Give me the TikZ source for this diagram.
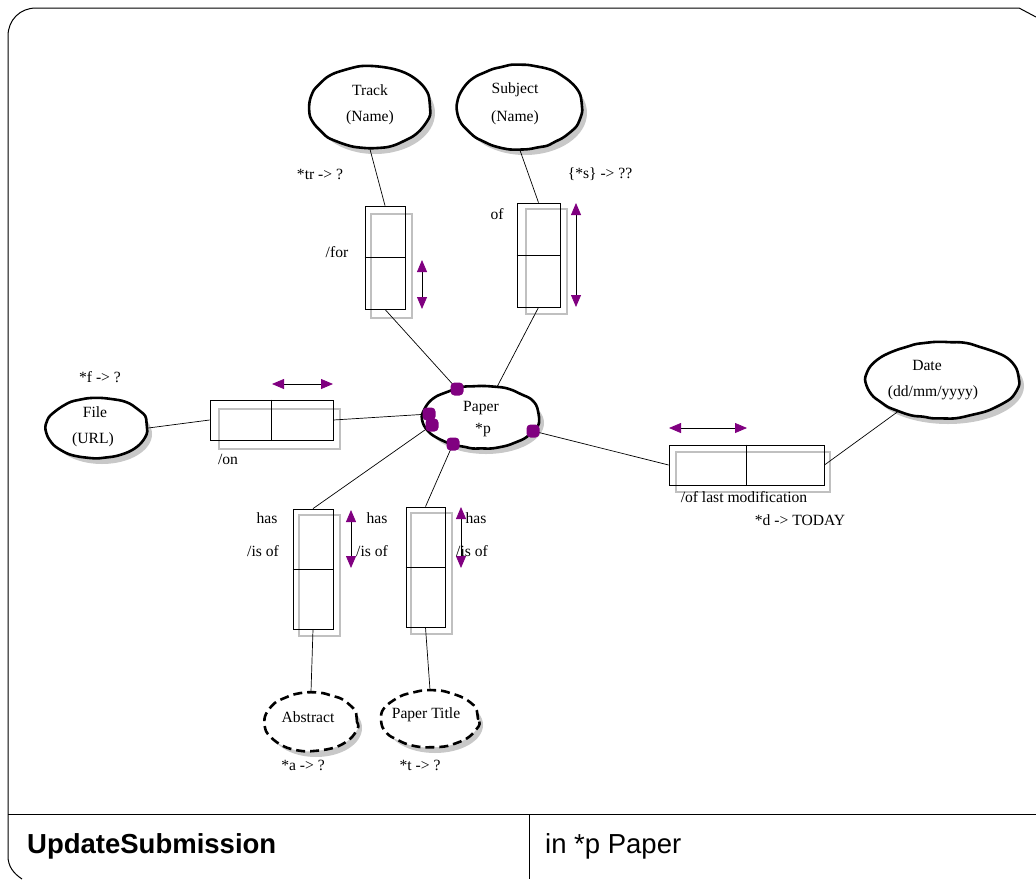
\documentclass[tikz,border=0pt]{standalone}
\usepackage{fontspec}
\setmainfont{Liberation Serif}
\newfontfamily\headfont{Liberation Sans}
\usetikzlibrary{shapes.geometric,arrows.meta,decorations.pathmorphing}
\definecolor{dotpurple}{RGB}{128,0,128}
\definecolor{shadowgray}{RGB}{200,200,200}
\definecolor{boxgray}{RGB}{192,192,192}
\pgfmathsetseed{11}
\begin{document}
\begin{tikzpicture}[x=1pt,y=-1pt,
  lbl/.style={font=\fontsize{15.6}{18}\selectfont, inner sep=0pt},
  headlbl/.style={font=\headfont\fontsize{27.5}{31}\selectfont, inner sep=0pt, anchor=base west},
  entity/.style={ellipse, draw, line width=2.6pt, fill=white, inner sep=0pt,
    line cap=round, line join=round,
    decorate, decoration={random steps, segment length=9pt, amplitude=0.7pt,
      pre length=3pt, post length=3pt}, rounded corners=3pt},
  valent/.style={entity, line cap=butt, dash pattern=on 9pt off 5pt},
  eshadow/.style={ellipse, fill=shadowgray, inner sep=0pt},
  relbox/.style={rectangle, draw, line width=0.8pt, inner sep=0pt},
  relshadow/.style={rectangle, draw=boxgray, line width=2.4pt, inner sep=0pt},
  link/.style={line width=0.7pt},
  roledir/.style={line width=0.8pt,
    {Triangle[length=12pt,width=10pt,color=dotpurple]}-{Triangle[length=12pt,width=10pt,color=dotpurple]}},
  port/.style={rectangle, rounded corners=4pt, fill=dotpurple, minimum size=13pt, inner sep=0pt},
]
\useasboundingbox (0,0) rectangle (1036,879);

% outer frame and footer
\draw[line width=1pt] (1036,17) -- (1019,8) -- (36,8)
  .. controls (20,8) and (8,20) .. (8,36) -- (8,856)
  .. controls (8,866) and (13,873) .. (22,879);
\draw[line width=1pt] (8,814) -- (1036,814);
\draw[line width=1pt] (529,814) -- (529,879);
\node[headlbl, font=\headfont\bfseries\fontsize{27.5}{31}\selectfont] (title) at (27,853) {UpdateSubmission};
\node[headlbl] (param) at (545,853) {in *p Paper};

% entity shadows
\node[eshadow, minimum width=120pt, minimum height=82pt] (track-sh) at (375,113) {};
\node[eshadow, minimum width=124pt, minimum height=84pt] (subject-sh) at (525,113) {};
\node[eshadow, minimum width=100pt, minimum height=60pt] (file-sh) at (102,434) {};
\node[eshadow, minimum width=116pt, minimum height=62pt] (paper-sh) at (486,423) {};
\node[eshadow, minimum width=152pt, minimum height=76pt] (date-sh) at (948,386) {};
\node[eshadow, minimum width=92pt, minimum height=58pt] (abstract-sh) at (316,728) {};
\node[eshadow, minimum width=96pt, minimum height=56pt] (ptitle-sh) at (435,725) {};

% entities
\node[entity, minimum width=120pt, minimum height=82pt] (track) at (370,107) {};
\node[entity, minimum width=124pt, minimum height=84pt] (subject) at (520,107) {};
\node[entity, minimum width=100pt, minimum height=60pt] (file) at (97,428) {};
\node[entity, minimum width=116pt, minimum height=62pt] (paper) at (481,417) {};
\node[entity, minimum width=152pt, minimum height=76pt] (date) at (943,380) {};
\node[valent, minimum width=92pt, minimum height=58pt] (abstract) at (311,722) {};
\node[valent, minimum width=96pt, minimum height=56pt] (ptitle) at (430,719) {};

% relationship boxes
\node[relshadow, minimum width=41pt, minimum height=104pt] (trbox-sh) at (391.5,266) {};
\node[relbox, minimum width=40pt, minimum height=103pt] (trbox) at (385,257.5) {};
\node[relshadow, minimum width=41pt, minimum height=105pt] (subbox-sh) at (546.5,261.5) {};
\node[relbox, minimum width=43pt, minimum height=104pt] (subbox) at (538.5,255) {};
\node[relshadow, minimum width=121pt, minimum height=40pt] (filebox-sh) at (279.5,429) {};
\node[relbox, minimum width=123pt, minimum height=40pt] (filebox) at (271.5,420) {};
\node[relshadow, minimum width=154pt, minimum height=40pt] (datebox-sh) at (753,472) {};
\node[relbox, minimum width=155pt, minimum height=40pt] (datebox) at (746.5,465) {};
\node[relshadow, minimum width=41pt, minimum height=121pt] (absbox-sh) at (319.5,575.5) {};
\node[relbox, minimum width=40pt, minimum height=120pt] (absbox) at (313,569) {};
\node[relshadow, minimum width=41pt, minimum height=121pt] (ptbox-sh) at (431.5,573.5) {};
\node[relbox, minimum width=39pt, minimum height=120pt] (ptbox) at (425.5,567) {};

% role dividers
\draw[line width=0.8pt] (trbox.west) -- (trbox.east);
\draw[line width=0.8pt] (subbox.west) -- (subbox.east);
\draw[line width=0.8pt] (filebox.north) -- (filebox.south);
\draw[line width=0.8pt] (datebox.north) -- (datebox.south);
\draw[line width=0.8pt] (absbox.west) -- (absbox.east);
\draw[line width=0.8pt] (ptbox.west) -- (ptbox.east);

% ports on the Paper entity
\coordinate (pA) at (457,389);
\coordinate (pB) at (429,414);
\coordinate (pC) at (432,425);
\coordinate (pD) at (453,444);
\coordinate (pE) at (533,431);

% links
\draw[link] (track.south) -- (trbox.north);
\draw[link] (trbox.south) -- (pA);
\draw[link] (subject.south) -- (subbox.north);
\draw[link] (subbox.south) -- (paper.62);
\draw[link] (file.east) -- (filebox.west);
\draw[link] (filebox.east) -- (pB);
\draw[link] (absbox.north) -- (pC);
\draw[link] (ptbox.north) -- (pD);
\draw[link] (pE) -- (datebox.west);
\draw[link] (datebox.east) -- (date.215);
\draw[link] (absbox.south) -- (abstract.north);
\draw[link] (ptbox.south) -- (ptitle.north);

\node[port] (portA) at (pA) {};
\node[port] (portB) at (pB) {};
\node[port] (portC) at (pC) {};
\node[port] (portD) at (pD) {};
\node[port] (portE) at (pE) {};

% reading direction arrows
\coordinate (trA) at (422,260); \coordinate (trB) at (422,309);
\coordinate (sbA) at (576,203); \coordinate (sbB) at (576,307);
\coordinate (flA) at (272,384); \coordinate (flB) at (333,384);
\coordinate (dtA) at (669,428); \coordinate (dtB) at (747,428);
\coordinate (abA) at (351,510); \coordinate (abB) at (351,568);
\coordinate (ptA) at (461,507); \coordinate (ptB) at (461,568);
\draw[roledir] (trA) -- (trB);
\draw[roledir] (sbA) -- (sbB);
\draw[roledir] (flA) -- (flB);
\draw[roledir] (dtA) -- (dtB);
\draw[roledir] (abA) -- (abB);
\draw[roledir] (ptA) -- (ptB);

% entity labels
\node[lbl] (t-track) at (370,90) {Track};
\node[lbl] (t-trackn) at (370,118) {(Name)};
\node[lbl] (t-subject) at (515,90) {Subject};
\node[lbl] (t-subjectn) at (515,118) {(Name)};
\node[lbl] (t-file) at (95,412) {File};
\node[lbl] (t-url) at (93,440) {(URL)};
\node[lbl] (t-paper) at (481,408) {Paper};
\node[lbl] (t-p) at (483,430) {*p};
\node[lbl] (t-date) at (927,365) {Date};
\node[lbl] (t-fmt) at (933,393) {(dd/mm/yyyy)};
\node[lbl] (t-abstract) at (308,717) {Abstract};
\node[lbl] (t-ptitle) at (426,715) {Paper Title};

% role and variable labels
\node[lbl] (v-tr) at (320,174) {*tr -> ?};
\node[lbl] (v-s) at (600,174) {\{*s\} -> ??};
\node[lbl] (r-for) at (337,252) {/for};
\node[lbl] (r-of) at (497,214) {of};
\node[lbl] (v-f) at (100,377) {*f -> ?};
\node[lbl] (r-on) at (228,459) {/on};
\node[lbl] (r-mod) at (744,497) {/of last modification};
\node[lbl] (v-d) at (800,520) {*d -> TODAY};
\node[lbl] (r-has1) at (267,518) {has};
\node[lbl] (r-isof1) at (263,551) {/is of};
\node[lbl] (r-has2) at (377,518) {has};
\node[lbl] (r-isof2) at (372,551) {/is of};
\node[lbl] (r-has3) at (476,518) {has};
\node[lbl] (r-isof3) at (472,551) {/is of};
\node[lbl] (v-a) at (303,765) {*a -> ?};
\node[lbl] (v-t) at (420,765) {*t -> ?};
\end{tikzpicture}
\end{document}
